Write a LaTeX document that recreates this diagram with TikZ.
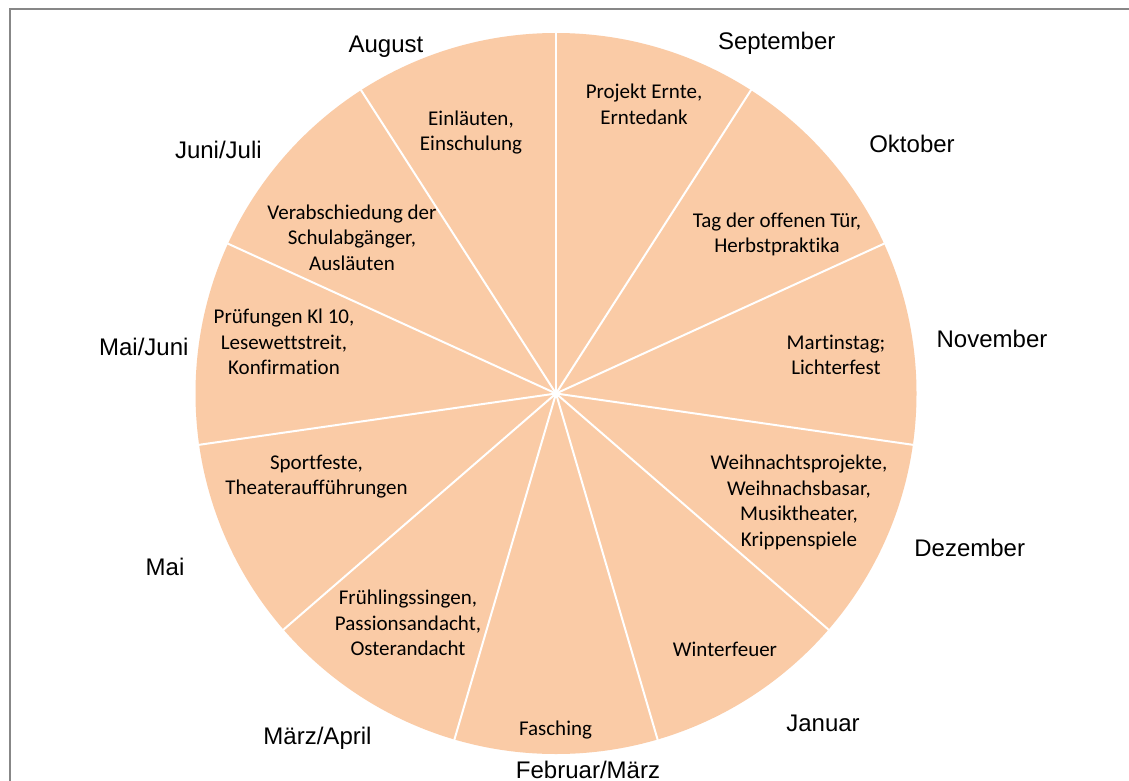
\documentclass[tikz,border=0pt]{standalone}
\usepackage{fontspec}
\setmainfont{Carlito}[Ligatures={NoCommon}]
\newfontfamily\arialfont{Liberation Sans}
\definecolor{piecol}{HTML}{FACBA6}
\definecolor{framecol}{HTML}{878787}
\begin{document}
\begin{tikzpicture}[x=1pt,y=1pt,
  inner/.style={font=\fontsize{21}{25.5}\selectfont, align=center, inner sep=0pt, text=black},
  month/.style={font=\arialfont\fontsize{24}{28}\selectfont, anchor=base, inner sep=0pt, text=black},
  divider/.style={draw=white, line width=2pt}]
\useasboundingbox (0,0) rectangle (1129,-781);
\fill[white] (0,0) rectangle (1129,-781);
\draw[framecol, line width=2pt] (10,-800) -- (10,-9) -- (1150,-9);
% pie
\coordinate (c) at (556,-393.5);
\fill[piecol] (c) circle[radius=360.5];
\foreach \k in {0,...,10} {
  \draw[divider] (c) -- ++({90-\k*360/11}:361);
}
% inner texts
\node[inner] (sepT) at (644,-106.6) {\strut Projekt Ernte,\\\strut Erntedank};
\node[inner] (oktT) at (777,-235) {\strut Tag der offenen Tür,\\\strut Herbstpraktika};
\node[inner] (novT) at (836,-357) {\strut Martinstag;\\\strut Lichterfest};
\node[inner] (dezT) at (799,-502.8) {\strut Weihnachtsprojekte,\\\strut Weihnachsbasar,\\\strut Musiktheater,\\\strut Krippenspiele};
\node[inner] (janT) at (725,-650.9) {\strut Winterfeuer};
\node[inner] (febT) at (555.5,-729.9) {\strut Fasching};
\node[inner] (marT) at (408,-625) {\strut Frühlingssingen,\\\strut Passionsandacht,\\\strut Osterandacht};
\node[inner] (maiT) at (316.5,-477) {\strut Sportfeste,\\\strut Theateraufführungen};
\node[inner] (mjT) at (284,-344) {\strut Prüfungen Kl 10,\\\strut Lesewettstreit,\\\strut Konfirmation};
\node[inner] (jjT) at (352,-239.5) {\strut Verabschiedung der\\\strut Schulabgänger,\\\strut Ausläuten};
\node[inner] (augT) at (471,-133) {\strut Einläuten,\\\strut Einschulung};
% month labels
\node[month] (sepM) at (776.7,-50) {September};
\node[month] (oktM) at (912,-152) {Oktober};
\node[month] (novM) at (992,-347) {November};
\node[month] (dezM) at (969.7,-556.7) {Dezember};
\node[month] (janM) at (823,-731.7) {Januar};
\node[month] (febM) at (588,-778) {Februar/März};
\node[month] (marM) at (317.5,-744) {März/April};
\node[month] (maiM) at (165,-575) {Mai};
\node[month] (mjM) at (143.8,-355) {Mai/Juni};
\node[month] (jjM) at (218.4,-158) {Juni/Juli};
\node[month] (augM) at (386,-53) {August};
\end{tikzpicture}
\end{document}
